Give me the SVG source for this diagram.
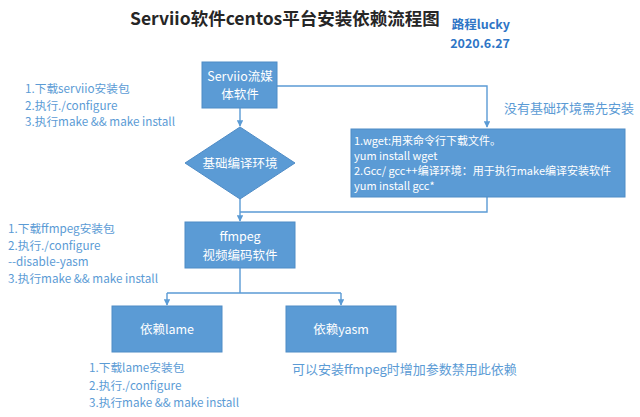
<svg xmlns="http://www.w3.org/2000/svg" width="640" height="417" viewBox="0 0 640 417">
<style>
text{font-family:"Noto Sans CJK SC","Noto Sans",sans-serif}
.box{fill:#5b9bd5;stroke:#4f8cc6;stroke-width:1}
.bt{fill:#ffffff;font-size:12.5px;text-anchor:middle}
.wt{fill:#ffffff;font-size:11px}
.note{fill:#5b9bd5;font-size:11.7px}
.conn{fill:none;stroke:#5b9bd5;stroke-width:1.4}
.title{fill:#262626;font-size:17.5px;font-weight:bold}
.auth{fill:#2e75c6;font-size:12.5px;font-weight:bold;text-anchor:end}
</style>
<defs>
<marker id="ah" viewBox="0 0 10 10" refX="9" refY="5" markerWidth="4.5" markerHeight="4.5" orient="auto" markerUnits="strokeWidth">
<path d="M0,0 L10,5 L0,10 z" fill="#5b9bd5"/>
</marker>
</defs>
<rect width="640" height="417" fill="#ffffff"/>
<text class="title" x="130" y="25">Serviio软件centos平台安装依赖流程图</text>
<text class="auth" x="510" y="29">路程lucky</text>
<text class="auth" x="510" y="47.5">2020.6.27</text>

<g id="connectors">
<path class="conn" d="M240,108 L240,126" marker-end="url(#ah)"/>
<path class="conn" d="M277,86 L487,86 L487,127" marker-end="url(#ah)"/>
<path class="conn" d="M240,198 L240,221" marker-end="url(#ah)"/>
<path class="conn" d="M487,197 L487,212 L240,212"/>
<path class="conn" d="M240,268 L240,293 M167,293 L341,293"/>
<path class="conn" d="M167,293 L167,305" marker-end="url(#ah)"/>
<path class="conn" d="M341,293 L341,305" marker-end="url(#ah)"/>
</g>

<g id="serviio">
<rect class="box" x="202" y="62" width="75" height="46"/>
<text class="bt" x="240" y="80.5">Serviio流媒</text>
<text class="bt" x="240" y="99">体软件</text>
</g>
<g id="base-env">
<path class="box" d="M240,127 L295,163 L240,199 L185,163 z"/>
<text class="bt" x="240" y="168">基础编译环境</text>
</g>
<g id="install-env">
<rect class="box" x="351" y="129" width="274" height="68"/>
<text class="wt" x="354" y="145">1.wget:用来命令行下载文件。</text>
<text class="wt" x="354" y="160">yum install wget</text>
<text class="wt" x="354" y="175">2.Gcc/ gcc++编译环境：用于执行make编译安装软件</text>
<text class="wt" x="354" y="190">yum install gcc*</text>
</g>
<g id="ffmpeg">
<rect class="box" x="185" y="222" width="110" height="46"/>
<text class="bt" x="240" y="241">ffmpeg</text>
<text class="bt" x="240" y="259.5">视频编码软件</text>
</g>
<g id="lame">
<rect class="box" x="112" y="306" width="110" height="46"/>
<text class="bt" x="167" y="334">依赖lame</text>
</g>
<g id="yasm">
<rect class="box" x="286" y="306" width="110" height="46"/>
<text class="bt" x="341" y="334">依赖yasm</text>
</g>

<g id="notes">
<text class="note" x="25" y="93">1.下载serviio安装包</text>
<text class="note" x="25" y="110">2.执行./configure</text>
<text class="note" x="25" y="126">3.执行make &amp;&amp; make install</text>
<text class="note" x="8" y="233">1.下载ffmpeg安装包</text>
<text class="note" x="8" y="250">2.执行./configure</text>
<text class="note" x="8" y="266">--disable-yasm</text>
<text class="note" x="8" y="283">3.执行make &amp;&amp; make install</text>
<text class="note" x="89" y="372">1.下载lame安装包</text>
<text class="note" x="89" y="390">2.执行./configure</text>
<text class="note" x="89" y="407">3.执行make &amp;&amp; make install</text>
<text class="note" x="292" y="374" style="font-size:13px">可以安装ffmpeg时增加参数禁用此依赖</text>
<text class="note" x="504" y="113" style="font-size:13px">没有基础环境需先安装</text>
</g>
</svg>
